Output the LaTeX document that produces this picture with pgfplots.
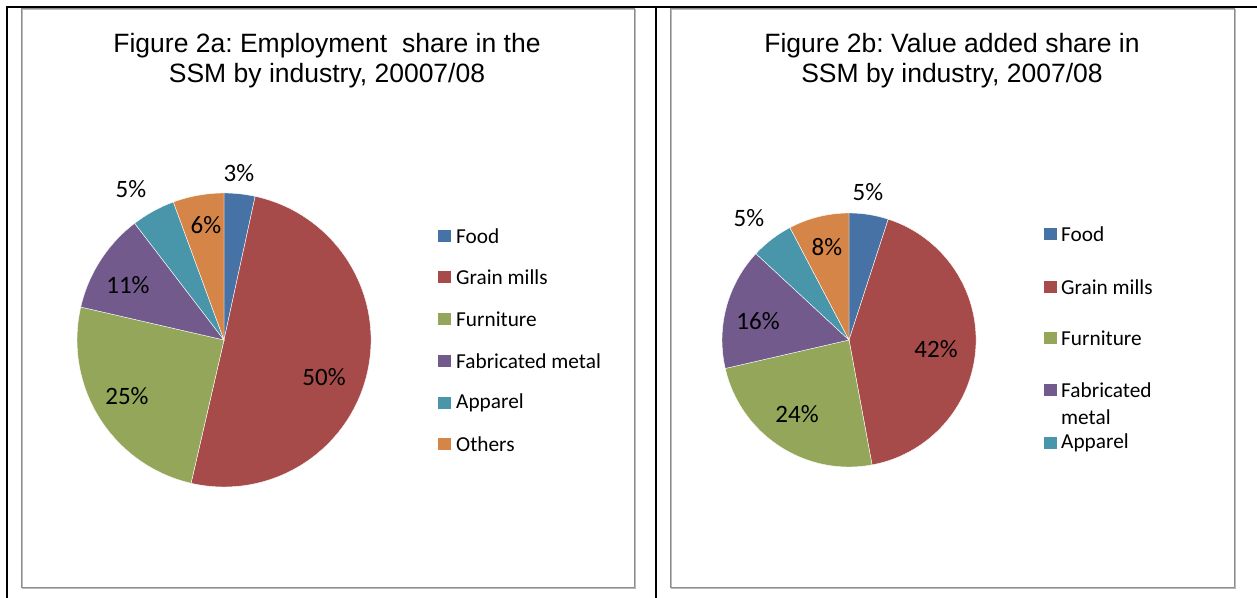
\documentclass[border=0pt]{standalone}
\usepackage{pgfplots}
\pgfplotsset{compat=1.18}
\usepackage{pgfplotstable}
\usepackage{fontspec}
\setmainfont{Carlito}
\newfontfamily\arial{Liberation Sans}
\frenchspacing

\definecolor{cFood}{RGB}{71,114,166}
\definecolor{cGrain}{RGB}{166,75,74}
\definecolor{cFurn}{RGB}{148,166,90}
\definecolor{cFab}{RGB}{114,90,141}
\definecolor{cApp}{RGB}{73,150,170}
\definecolor{cOth}{RGB}{214,133,72}
\definecolor{boxgray}{RGB}{140,140,140}

% value, label, label offset (px from centre), colour
\pgfplotstableread{
v lab lx ly c
3.4 3 15 167 cFood
50.2 50 100 -37 cGrain
25.0 25 -97 -56 cFurn
11.0 11 -96 55 cFab
4.8 5 -93 151 cApp
5.6 6 -18 115 cOth
}\tabA
\pgfplotstableread{
v lab lx ly c
5.0 5 19 148 cFood
42.1 42 87 -9 cGrain
24.3 24 -52 -74 cFurn
15.5 16 -91 19 cFab
5.4 5 -100 122 cApp
7.7 8 -22 93 cOth
}\tabB
\pgfplotstablecreatecol[create col/expr accum={\pgfmathaccuma + \thisrow{v}}{0}]{cum}{\tabA}
\pgfplotstablecreatecol[create col/expr accum={\pgfmathaccuma + \thisrow{v}}{0}]{cum}{\tabB}

\newcommand\drawpie[2]{%
  \pgfplotstablegetrowsof{#1}\pgfmathtruncatemacro\N{\pgfplotsretval-1}%
  \foreach \i in {0,...,\N}{%
    \pgfplotstablegetelem{\i}{v}\of#1\let\V\pgfplotsretval
    \pgfplotstablegetelem{\i}{cum}\of#1\let\C\pgfplotsretval
    \pgfplotstablegetelem{\i}{c}\of#1\let\col\pgfplotsretval
    \pgfmathsetmacro\sa{90-3.6*(\C-\V)}%
    \pgfmathsetmacro\ea{90-3.6*\C}%
    \fill[fill=\col, draw=white, line width=0.4bp] (axis cs:0,0) -- ++(\sa:#2bp) arc[start angle=\sa, end angle=\ea, radius=#2bp] -- cycle;
  }%
  \foreach \i in {0,...,\N}{%
    \pgfplotstablegetelem{\i}{lab}\of#1\let\L\pgfplotsretval
    \pgfplotstablegetelem{\i}{lx}\of#1\let\LX\pgfplotsretval
    \pgfplotstablegetelem{\i}{ly}\of#1\let\LY\pgfplotsretval
    \node[font=\fontsize{25bp}{29bp}\selectfont, inner sep=0pt] at (axis cs:\LX,\LY) {\L\%};
  }%
}

\begin{document}
\begin{tikzpicture}[x=1bp,y=1bp]
\path[use as bounding box] (0,0) rectangle (1257,598);
% chart boxes
\draw[boxgray!60, line width=1.5bp] (22.5,9.5) rectangle (635.5,588.5);
\draw[boxgray, line width=1.5bp] (21.5,10.5) rectangle (634.5,589.5);
\draw[boxgray!60, line width=1.5bp] (671.5,9.5) rectangle (1235.5,588.5);
\draw[boxgray, line width=1.5bp] (670.5,10.5) rectangle (1234.5,589.5);
% table lines
\draw[line width=1.6bp] (7,0) -- (7,591) -- (1257,591);
\draw[line width=1.6bp] (656,0) -- (656,591);

% titles
\node[font=\arial\fontsize{26.5bp}{30bp}\selectfont, align=center] at (327,537) {Figure 2a: Employment\ \ share in the\\SSM by industry, 20007/08};
\node[font=\arial\fontsize{26.5bp}{30bp}\selectfont, align=center] at (952,537) {Figure 2b: Value added share in\\SSM by industry, 2007/08};

\begin{axis}[at={(224,258)}, anchor=center, scale only axis, width=294bp, height=294bp,
  xmin=-147, xmax=147, ymin=-147, ymax=147, hide axis, clip=false]
  \pgfplotsextra{\drawpie{\tabA}{147}}
\end{axis}

\begin{axis}[at={(849,258)}, anchor=center, scale only axis, width=254bp, height=254bp,
  xmin=-127, xmax=127, ymin=-127, ymax=127, hide axis, clip=false]
  \pgfplotsextra{\drawpie{\tabB}{127}}
\end{axis}

% legends
\begin{scope}[font=\fontsize{21.3bp}{27bp}\selectfont]
\foreach \n/\c/\y in {Food/cFood/236, Grain mills/cGrain/277, Furniture/cFurn/319, Fabricated metal/cFab/361, Apparel/cApp/403, Others/cOth/444}{
  \fill[\c] (438,598-\y-6.2) rectangle ++(12.5,12.5);
  \node[anchor=west, inner sep=0pt] at (456,598-\y) {\n};
}
\foreach \n/\c/\y in {Food/cFood/234, Grain mills/cGrain/287, Furniture/cFurn/338, Fabricated/cFab/390, Apparel/cApp/443}{
  \fill[\c] (1044,598-\y-6.2) rectangle ++(12.5,12.5);
  \node[anchor=west, inner sep=0pt] at (1061,598-\y) {\n};
}
\node[anchor=west, inner sep=0pt] at (1061,598-417) {metal};
\end{scope}
\end{tikzpicture}
\end{document}
